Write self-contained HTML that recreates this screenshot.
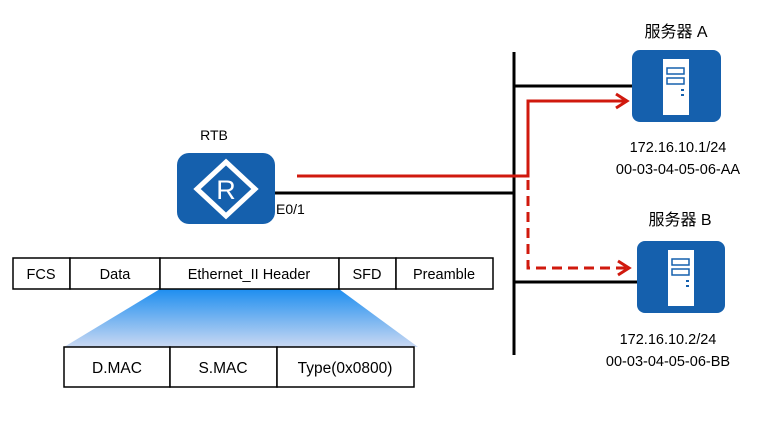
<!DOCTYPE html><html><head><meta charset="utf-8"><style>body{margin:0;background:#fff}</style></head><body>
<svg width="766" height="417" xmlns="http://www.w3.org/2000/svg" font-family="Liberation Sans, Noto Sans CJK SC, sans-serif">
<defs><linearGradient id="g" x1="0" y1="0" x2="0" y2="1"><stop offset="0" stop-color="#1e8ef0"/><stop offset="1" stop-color="#c9d8f2"/></linearGradient></defs>
<line x1="514" y1="52" x2="514" y2="355" stroke="#000" stroke-width="3"/>
<line x1="514" y1="86" x2="632" y2="86" stroke="#000" stroke-width="3"/>
<line x1="514" y1="282" x2="637" y2="282" stroke="#000" stroke-width="3"/>
<line x1="270" y1="193" x2="514" y2="193" stroke="#000" stroke-width="3"/>
<polyline points="297,176 528,176 528,101 626,101" fill="none" stroke="#d0190e" stroke-width="3"/>
<polyline points="616,94 627,101 616,108" fill="none" stroke="#d0190e" stroke-width="3"/>
<polyline points="528,180 528,268 626,268" fill="none" stroke="#d0190e" stroke-width="3" stroke-dasharray="10,6"/>
<polyline points="618,261 629,268 618,275" fill="none" stroke="#d0190e" stroke-width="3"/>
<text x="214" y="140" font-size="14" text-anchor="middle">RTB</text>
<rect x="177" y="153" width="98" height="71" rx="12" fill="#1560ad"/>
<polygon points="226,162 255,189 226,216 197,189" fill="none" stroke="#fff" stroke-width="5"/>
<text x="226" y="199" font-size="27" fill="#fff" text-anchor="middle">R</text>
<text x="276" y="214" font-size="14">E0/1</text>
<text x="676" y="37" font-size="16" text-anchor="middle">服务器 A</text>
<rect x="632" y="50" width="89" height="72" rx="8" fill="#1560ad"/>
<rect x="663" y="59" width="26" height="56" fill="#fff"/>
<rect x="667" y="68" width="17" height="6" fill="none" stroke="#1560ad" stroke-width="1.5"/>
<rect x="667" y="78" width="17" height="6" fill="none" stroke="#1560ad" stroke-width="1.5"/>
<rect x="681" y="89" width="3" height="2" fill="#1560ad"/><rect x="681" y="94" width="3" height="2" fill="#1560ad"/>
<text x="678" y="152" font-size="14.5" text-anchor="middle">172.16.10.1/24</text>
<text x="678" y="174" font-size="14.5" text-anchor="middle">00-03-04-05-06-AA</text>
<text x="680" y="225" font-size="16" text-anchor="middle">服务器 B</text>
<rect x="637" y="241" width="88" height="72" rx="8" fill="#1560ad"/>
<rect x="668" y="250" width="26" height="56" fill="#fff"/>
<rect x="672" y="259" width="17" height="6" fill="none" stroke="#1560ad" stroke-width="1.5"/>
<rect x="672" y="269" width="17" height="6" fill="none" stroke="#1560ad" stroke-width="1.5"/>
<rect x="686" y="280" width="3" height="2" fill="#1560ad"/><rect x="686" y="285" width="3" height="2" fill="#1560ad"/>
<text x="668" y="344" font-size="14.5" text-anchor="middle">172.16.10.2/24</text>
<text x="668" y="366" font-size="14.5" text-anchor="middle">00-03-04-05-06-BB</text>
<polygon points="160,289 339,289 418,347 64,347" fill="url(#g)"/>
<g fill="#fff" stroke="#000" stroke-width="1.5">
<rect x="13" y="258" width="57" height="31"/><rect x="70" y="258" width="90" height="31"/><rect x="160" y="258" width="179" height="31"/><rect x="339" y="258" width="57" height="31"/><rect x="396" y="258" width="97" height="31"/>
<rect x="64" y="347" width="106" height="40"/><rect x="170" y="347" width="107" height="40"/><rect x="277" y="347" width="137" height="40"/>
</g>
<g font-size="14.5" text-anchor="middle">
<text x="41" y="279">FCS</text><text x="115" y="279">Data</text><text x="249" y="279">Ethernet_II Header</text><text x="367" y="279">SFD</text><text x="444" y="279">Preamble</text>
<text x="117" y="373" font-size="15.5">D.MAC</text><text x="223" y="373" font-size="15.5">S.MAC</text><text x="345" y="373" font-size="15.5">Type(0x0800)</text>
</g>
</svg></body></html>
